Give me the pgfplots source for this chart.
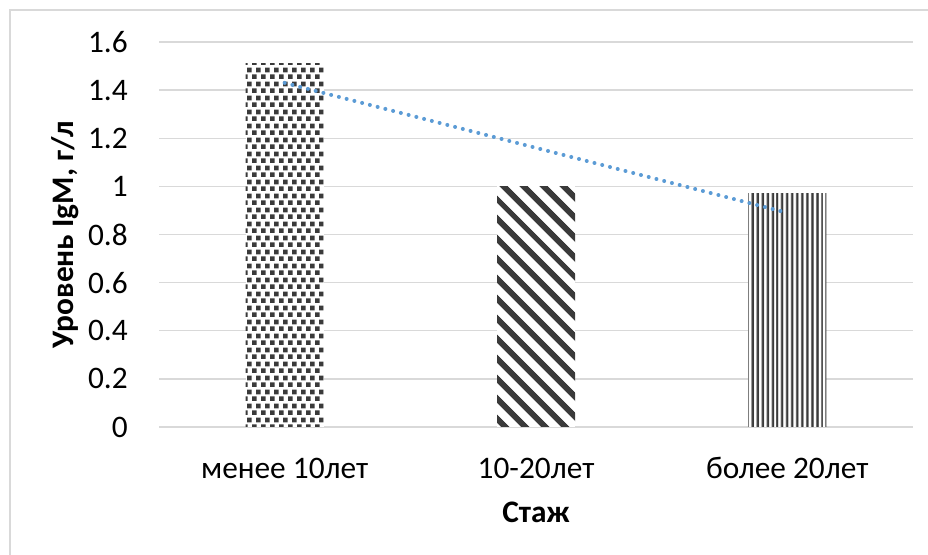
\documentclass[border=0pt]{standalone}
\usepackage{fontspec}
\setmainfont{Carlito}
\usepackage{pgfplots}
\pgfplotsset{compat=1.18}
\usetikzlibrary{patterns.meta}

\definecolor{gridgray}{HTML}{D9D9D9}
\definecolor{framegray}{HTML}{D9D9D9}
\definecolor{trendblue}{HTML}{5B9BD5}
\definecolor{patdark}{HTML}{3A3A3A}

% staggered small squares
\tikzdeclarepattern{
  name=staggersquares,
  type=uncolored,
  bounding box={(0pt,0pt) and (6.75pt,10.5pt)},
  tile size={(6.75pt,10.5pt)},
  code={
    \fill (0pt,0pt) rectangle (3.8pt,3.8pt);
    \fill (3.375pt,5.25pt) rectangle (7.175pt,9.05pt);
  }
}

\newcommand{\lblfont}{\fontsize{23.5}{26}\selectfont}

\begin{document}
\begin{tikzpicture}[x=1pt,y=1pt]
\useasboundingbox (0,0) rectangle (696,416.25);
% chart area frame
\draw[framegray, line width=1.5pt] (7.5,0) -- (7.5,408.75) -- (696,408.75);

\begin{axis}[
  at={(119.25pt,96pt)}, anchor=south west,
  scale only axis, width=565.5pt, height=288.75pt,
  xmin=-0.5, xmax=2.5, ymin=0, ymax=1.6,
  axis line style={draw=none},
  major tick length=0pt,
  ytick={0,0.2,0.4,0.6,0.8,1,1.2,1.4,1.6},
  yticklabels={0,0.2,0.4,0.6,0.8,1,1.2,1.4,1.6},
  xtick={0,1,2},
  xticklabels={менее 10лет,10-20лет,более 20лет},
  ymajorgrids, grid style={gridgray, line width=1.1pt},
  tick label style={font=\lblfont},
  yticklabel style={anchor=east, inner sep=0pt, xshift=-23.25pt},
  xticklabel style={anchor=base, inner sep=0pt, yshift=-39pt},
  xlabel={\textbf{Стаж}},
  ylabel={\textbf{Уровень IgM, г/л}},
  label style={font=\lblfont},
  x label style={at={(axis description cs:0.5,-0.2468)}, anchor=base},
  y label style={at={(axis description cs:-0.114,0.5)}, anchor=base},
  ybar, bar width=58.5pt, bar shift=0pt,
  clip=false,
]
\addplot[draw=none, fill=white, postaction={pattern=staggersquares, pattern color=patdark}]
  coordinates {(0,1.51)};
\addplot[draw=none, fill=white, postaction={pattern={Lines[angle=-45,distance=10.5pt,line width=4.6pt]}, pattern color=patdark}]
  coordinates {(1,1.00)};
\addplot[draw=none, fill=white, postaction={pattern={Lines[angle=90,distance=4pt,line width=2pt]}, pattern color=patdark}]
  coordinates {(2,0.97)};
% linear trend
\addplot[sharp plot, trendblue, line width=3pt, line cap=round, dash pattern=on 0pt off 6pt]
  coordinates {(0,1.43) (2,0.89)};
\end{axis}
\end{tikzpicture}
\end{document}
